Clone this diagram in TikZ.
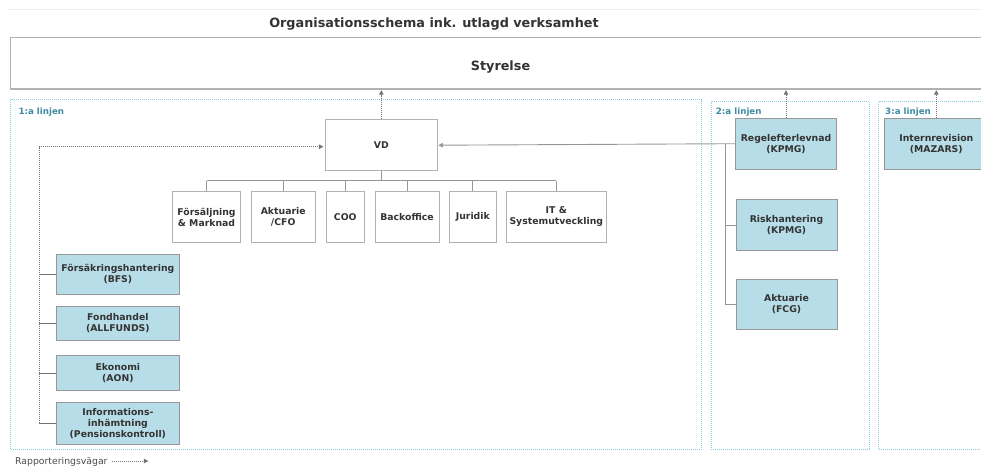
\documentclass[tikz,border=0pt]{standalone}
\usepackage{fontspec}
\setmainfont{DejaVu Sans}
\usetikzlibrary{arrows.meta}
\definecolor{boxgray}{RGB}{178,178,178}
\definecolor{linegray}{RGB}{150,150,150}
\definecolor{txtgray}{RGB}{51,51,51}
\definecolor{outblue}{RGB}{183,221,232}
\definecolor{framecyan}{RGB}{140,205,222}
\definecolor{labelteal}{RGB}{62,140,163}
\tikzset{unit/.style={rectangle, draw=boxgray, line width=0.9pt, fill=white, text=txtgray,
   font=\bfseries\fontsize{9.3}{11}\selectfont, align=center, inner sep=1pt, minimum height=51pt}}
\tikzset{outsourced/.style={unit, fill=outblue, draw=boxgray!85!black}}
\tikzset{conn/.style={draw=linegray, line width=0.9pt}}
\tikzset{report/.style={draw=black!55, line width=0.6pt, dash pattern=on 1.2pt off 0.8pt}}
\tikzset{arr/.style={-{Triangle[length=4.5pt,width=4.5pt]}, shorten >=0.6pt}}
\tikzset{frame/.style={draw=framecyan, line width=0.7pt, dash pattern=on 1pt off 1pt}}
\tikzset{linelabel/.style={anchor=base west, inner sep=0pt, text=labelteal,
   font=\bfseries\fontsize{8.7}{10}\selectfont}}

\begin{document}
\begin{tikzpicture}[x=1pt,y=-1pt]

  \path[use as bounding box, clip] (0,0) rectangle (981,466);
  \draw[draw=black!7, line width=0.8pt] (9,9.3) -- (981,9.3);

  \node[anchor=base, inner sep=0pt, text=txtgray, font=\bfseries\fontsize{12.8}{15}\selectfont]
    (title) at (434,27.3) {Organisationsschema ink. utlagd verksamhet};

  % styrelsen
  \node[unit, line width=1.2pt, minimum width=980pt, minimum height=51.5pt,
        text height=13.5pt, text depth=0pt, font=\bfseries\fontsize{12.8}{15}\selectfont]
    (styrelse) at (500.5,63.25) {Styrelse};

  % linjerna
  \draw[frame] (10.5,99.5) rectangle (701,449.5);
  \draw[frame] (711,101) rectangle (869.5,449.5);
  \draw[frame] (878.7,101.5) rectangle (1000,449.5);
  \node[linelabel] (l1) at (18.3,114.5) {1:a linjen};
  \node[linelabel] (l2) at (715.7,114.5) {2:a linjen};
  \node[linelabel] (l3) at (885,114.5) {3:a linjen};

  % 1:a linjen
  \node[unit, minimum width=112pt] (vd) at (381.3,145.2) {VD};
  \node[unit, minimum width=68.4pt] (fors) at (206.5,217) {Försäljning\\\& Marknad};
  \node[unit, minimum width=64.3pt] (akt) at (283.2,217) {Aktuarie\\/CFO};
  \node[unit, minimum width=38pt] (coo) at (345.3,217) {COO};
  \node[unit, minimum width=64pt] (back) at (407,217) {Backoffice};
  \node[unit, minimum width=46.3pt] (jur) at (472.8,217) {Juridik};
  \node[unit, minimum width=99.3pt] (it) at (556.3,217) {IT \&\\Systemutveckling};

  \node[outsourced, minimum width=122.3pt, minimum height=40pt] (bfs) at (117.85,274) {Försäkringshantering\\(BFS)};
  \node[outsourced, minimum width=122.3pt, minimum height=34.7pt] (fond) at (117.85,323.3) {Fondhandel\\(ALLFUNDS)};
  \node[outsourced, minimum width=122.3pt, minimum height=35.7pt] (eko) at (117.85,372.8) {Ekonomi\\(AON)};
  \node[outsourced, minimum width=122.3pt, minimum height=41.7pt] (info) at (117.85,423.2) {Informations-\\inhämtning\\(Pensionskontroll)};

  \coordinate (bus) at (0,180.7);
  \draw[conn] (vd.south) -- (vd.south |- bus);
  \draw[conn] (fors.north |- bus) -- (it.north |- bus);
  \foreach \n in {fors,akt,coo,back,jur,it}
    \draw[conn] (\n.north) -- (\n.north |- bus);

  \coordinate (rep) at (39.3,146.7);
  \draw[report, arr, shorten >=1.5pt] (rep |- info.west) -- (rep) -- (rep -| vd.west);
  \foreach \n in {bfs,fond,eko,info}
    \draw[report] (rep |- \n.west) -- (\n.west);

  % 2:a och 3:e linjen
  \node[outsourced, minimum width=101pt] (regel) at (786,143.7) {Regelefterlevnad\\(KPMG)};
  \node[outsourced, minimum width=101pt] (risk) at (786.5,225.3) {Riskhantering\\(KPMG)};
  \node[outsourced, minimum width=101pt, minimum height=50.3pt] (aktfcg) at (786.5,304.2) {Aktuarie\\(FCG)};
  \node[outsourced, minimum width=104pt] (intern) at (936.3,143.7) {Internrevision\\(MAZARS)};

  \coordinate (spine) at (725,0);
  \draw[conn, arr] (regel.west) -- (vd.east);
  \draw[conn] (spine |- regel.west) -- (spine |- aktfcg.west) -- (aktfcg.west);
  \draw[conn] (spine |- risk.west) -- (risk.west);

  \draw[report, arr] (vd.north) -- (vd.north |- styrelse.south);
  \draw[report, arr] (regel.north) -- (regel.north |- styrelse.south);
  \draw[report, arr] (intern.north) -- (intern.north |- styrelse.south);

  % legend
  \node[anchor=base west, inner sep=0pt, text=black!70, font=\fontsize{9.3}{11}\selectfont]
    (legend) at (15,464.5) {Rapporteringsvägar};
  \coordinate (legs) at (112,461);
  \coordinate (lege) at (149,461);
  \draw[report, arr] (legs) -- (lege);

\end{tikzpicture}
\end{document}
